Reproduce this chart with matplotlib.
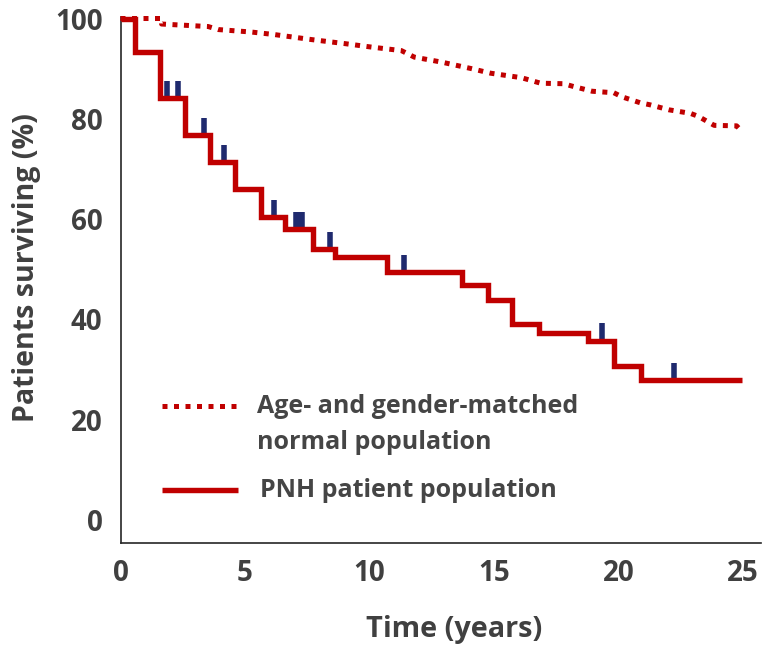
import numpy as np
import matplotlib
matplotlib.use("Agg")
import matplotlib.pyplot as plt

# ---------------- data ----------------
pnh_t = [0, 0.57, 1.6, 2.58, 3.61, 4.59, 5.63, 6.6, 7.71, 8.63, 10.72,
         13.7, 14.74, 15.74, 16.8, 18.78, 19.83, 20.92, 24.94]
pnh_s = [100, 93.3, 84.2, 76.7, 71.4, 66.1, 60.5, 58.0, 54.0, 52.4, 49.4,
         46.9, 43.8, 39.0, 37.3, 35.8, 30.8, 28.0, 28.0]

censor_t = [1.87, 2.29, 3.35, 4.15, 6.16, 7.04, 7.17, 7.30, 8.41, 11.38,
            19.35, 22.22]

norm_t = [0, 1.65, 1.65, 3.52, 3.92, 5.26, 6.18, 7.67, 9.0, 10.08, 11.28,
          11.8, 12.9, 14.1, 14.86, 16.1, 16.87, 17.8, 18.15, 18.94, 19.81,
          20.13, 20.87, 21.26, 22.02, 22.88, 23.2, 23.84, 24.74, 24.97]
norm_s = [100, 100, 98.9, 98.4, 97.8, 97.3, 96.8, 95.8, 95.0, 94.3, 93.6,
          92.3, 91.3, 90.0, 89.1, 88.2, 87.1, 87.0, 86.5, 85.5, 85.2,
          84.4, 83.2, 82.8, 81.8, 81.1, 80.5, 78.7, 78.6, 77.4]

x_ticks = [0, 5, 10, 15, 20, 25]
y_ticks = [0, 20, 40, 60, 80, 100]

legend_normal = ["Age- and gender-matched", "normal population"]
legend_pnh = "PNH patient population"
x_label = "Time (years)"
y_label = "Patients surviving (%)"

# ---------------- style ----------------
RED = "#C00000"
NAVY = "#1F2A6E"
TXT = "#404040"
FONT = ["Open Sans", "DejaVu Sans"]
plt.rcParams["font.family"] = FONT

W, H = 766, 646
fig = plt.figure(figsize=(W / 100, H / 100), dpi=100)
ax = fig.add_axes([120.5 / W, 1 - 542.7 / H, (761 - 120.5) / W, (542.7 - 16.5) / H])

ax.set_xlim(0, 25.72)
ax.set_ylim(-4.5, 100.4)

# normal population (dotted)
ax.plot(norm_t, norm_s, color=RED, lw=3.6, linestyle=(0, (1, 1.3)),
        dash_capstyle="butt", solid_joinstyle="miter", clip_on=False, zorder=3)

# censor marks
pt = np.array(pnh_t)
ps = np.array(pnh_s)
for ct in censor_t:
    lvl = ps[np.searchsorted(pt, ct, side="right") - 1]
    ax.plot([ct, ct], [lvl, lvl + 3.4], color=NAVY, lw=4.0,
            solid_capstyle="butt", zorder=4)

# PNH step curve
ax.step(pnh_t, pnh_s, where="post", color=RED, lw=3.9,
        solid_joinstyle="miter", solid_capstyle="butt", clip_on=False, zorder=5)

# axes styling
for side in ["top", "right"]:
    ax.spines[side].set_visible(False)
for side in ["left", "bottom"]:
    ax.spines[side].set_color("#262626")
    ax.spines[side].set_linewidth(1.2)
ax.set_xticks(x_ticks)
ax.set_yticks(y_ticks)
ax.tick_params(axis="both", length=0, labelsize=20, labelcolor=TXT)
ax.tick_params(axis="x", pad=12)
ax.tick_params(axis="y", pad=13)
for lab in ax.get_xticklabels() + ax.get_yticklabels():
    lab.set_fontweight("bold")

fig.text(454 / W, 1 - 636.7 / H, x_label, ha="center", va="baseline",
         fontsize=20.8, fontweight="bold", color=TXT)
fig.text(27 / W, 1 - 267.5 / H, y_label, ha="center", va="center",
         rotation=90, fontsize=20.5, fontweight="bold", color=TXT)

# legend (manual)
ax.plot([161.7 / W, 237.3 / W], [1 - 406 / H, 1 - 406 / H], transform=fig.transFigure,
        color=RED, lw=3.6, linestyle=(0, (1, 1.3)), dash_capstyle="butt", clip_on=False)
ax.plot([161.7 / W, 238 / W], [1 - 490 / H, 1 - 490 / H], transform=fig.transFigure,
        color=RED, lw=3.9, solid_capstyle="butt", clip_on=False)
fig.text(257.3 / W, 1 - 413.3 / H, legend_normal[0], ha="left", va="baseline",
         fontsize=18, fontweight="bold", color="#454545")
fig.text(257.3 / W, 1 - 449.3 / H, legend_normal[1], ha="left", va="baseline",
         fontsize=18, fontweight="bold", color="#454545")
fig.text(260 / W, 1 - 497.4 / H, legend_pnh, ha="left", va="baseline",
         fontsize=18, fontweight="bold", color="#454545")

fig.savefig("out.png", dpi=100)
